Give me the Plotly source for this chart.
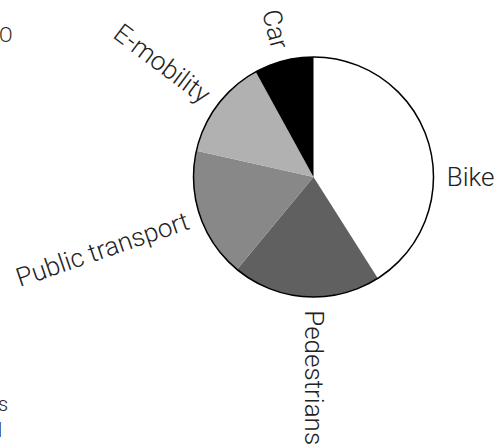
import math
import plotly.graph_objects as go

# Modal split of trips (percent), clockwise from 12 o'clock
modes = ["Bike", "Pedestrians", "Public transport", "E-mobility", "Car"]
shares = [41, 20, 17.5, 13.5, 8]
slice_colors = ["#ffffff", "#606060", "#888888", "#b1b1b1", "#000000"]

W, H = 496, 445
CX, CY, R = 313.5, 177.0, 120.0      # pie centre / radius in pixels
LABEL_GAP = 134                       # inner end of each radial label (px)
LABEL_FONT = dict(family="Roboto", size=26, color="#222222", weight=300)
EDGE_FONT = dict(family="Roboto", size=20, color="#222222", weight=300)
SPACE_W = 0.2476 * LABEL_FONT["size"]  # width of a space in Roboto

# labels that sit on the horizontal / vertical axis instead of the slice middle
label_angle_snap = {"Bike": 90.0, "Pedestrians": 180.0}

dom_x = [(CX - R) / W, (CX + R) / W]
dom_y = [1 - (CY + R) / H, 1 - (CY - R) / H]

fig = go.Figure()
fig.add_trace(go.Pie(
    labels=modes, values=shares, sort=False, direction="clockwise", rotation=0,
    marker=dict(colors=slice_colors, line=dict(width=0)),
    textinfo="none", hoverinfo="label+percent",
    domain=dict(x=dom_x, y=dom_y),
))
# outer outline drawn as a single full slice so no radial edges appear
fig.add_trace(go.Pie(
    labels=["outline"], values=[1], sort=False,
    marker=dict(colors=["rgba(0,0,0,0)"], line=dict(color="#000000", width=1.5)),
    textinfo="none", hoverinfo="skip",
    domain=dict(x=dom_x, y=dom_y),
))

# radial labels: each annotation is centred on the pie centre and padded with an
# invisible mirror copy so the visible word starts LABEL_GAP px from the centre
total = sum(shares)
cum = 0.0
gap = "\u00a0" * round(2 * LABEL_GAP / SPACE_W)
annotations = []
for name, v in zip(modes, shares):
    mid = (cum + v / 2) / total * 360.0
    cum += v
    phi = label_angle_snap.get(name, mid)
    ghost = f'<span style="color:rgba(0,0,0,0)">{name}</span>'
    if phi <= 180:
        text, angle = ghost + gap + name, phi - 90
    else:
        text, angle = name + gap + ghost, phi - 270
    annotations.append(dict(
        x=CX / W, y=1 - CY / H, xref="paper", yref="paper",
        text=text, textangle=angle, showarrow=False,
        xanchor="center", yanchor="middle", font=LABEL_FONT, borderpad=0,
    ))

# text running in from the left edge of the page
for txt, xr, yc in [("O", 14, 35), ("s", 9, 404), ("d", 2.5, 430)]:
    annotations.append(dict(
        x=xr / W, y=1 - yc / H, xref="paper", yref="paper", text=txt,
        showarrow=False, xanchor="right", yanchor="middle", font=EDGE_FONT, borderpad=0,
    ))

fig.update_layout(
    width=W, height=H, margin=dict(l=0, r=0, t=0, b=0),
    paper_bgcolor="#ffffff", plot_bgcolor="#ffffff",
    showlegend=False, annotations=annotations,
)
fig.write_html("out.html")
